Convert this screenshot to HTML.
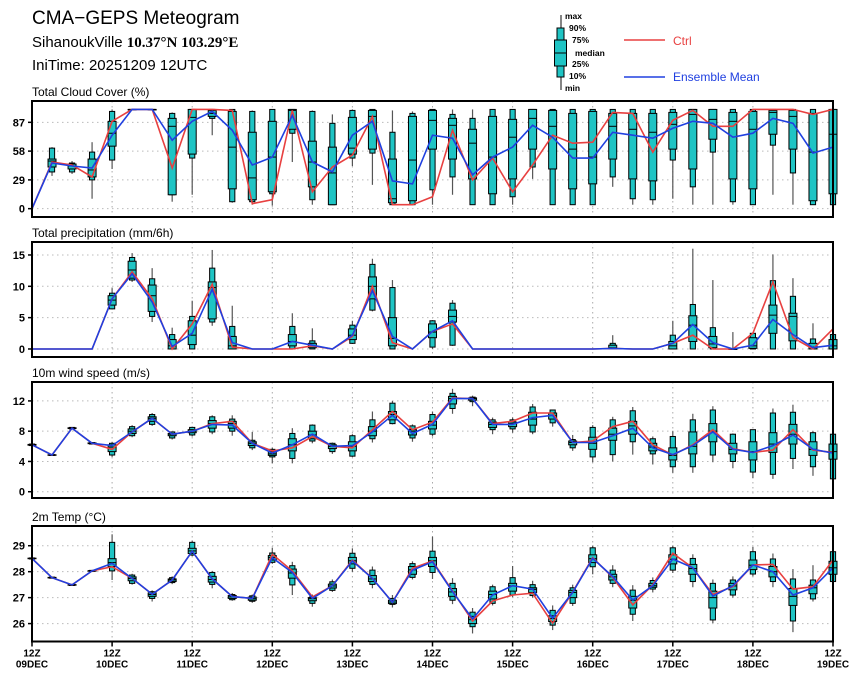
<!DOCTYPE html>
<html><head><meta charset="utf-8"><title>CMA-GEPS Meteogram</title>
<style>
html,body{margin:0;padding:0;background:#fff;}
svg{display:block;font-family:"Liberation Sans",sans-serif;}
</style></head>
<body>
<svg id="chart" width="860" height="680" viewBox="0 0 860 680" xmlns="http://www.w3.org/2000/svg">
<g>
<text x="32" y="24" font-size="19" fill="#000">CMA−GEPS Meteogram</text>
<text x="32" y="47" font-size="15" fill="#000">SihanoukVille <tspan font-family="Liberation Serif" font-weight="bold">10.37°N 103.29°E</tspan></text>
<text x="32" y="70" font-size="15" fill="#000">IniTime: 20251209 12UTC</text>
</g>
<g>
<line x1="561" y1="15" x2="561" y2="90" stroke="#333" stroke-width="1.2"/>
<rect x="557" y="28" width="7" height="49" fill="#1fc4c4" stroke="#000"/>
<rect x="554.5" y="40" width="12" height="26" fill="#1fc4c4" stroke="#000"/>
<line x1="554.5" y1="53" x2="566.5" y2="53" stroke="#000"/>
<g font-size="8.5" font-weight="bold" fill="#000">
<text x="565" y="19">max</text>
<text x="569" y="31">90%</text>
<text x="572" y="43">75%</text>
<text x="575" y="56">median</text>
<text x="572" y="67">25%</text>
<text x="569" y="79">10%</text>
<text x="565" y="91">min</text>
</g>
<line x1="624" y1="40" x2="665" y2="40" stroke="#e84040" stroke-width="1.5"/>
<text x="673" y="45" font-size="12" fill="#e84040">Ctrl</text>
<line x1="624" y1="77" x2="665" y2="77" stroke="#2040e0" stroke-width="1.5"/>
<text x="673" y="81" font-size="12" fill="#2040e0">Ensemble Mean</text>
</g>
</svg>
<script>
const N = null;
const dayLabels = ["09DEC","10DEC","11DEC","12DEC","13DEC","14DEC","15DEC","16DEC","17DEC","18DEC","19DEC"];
// Cloud cover (%)
const cloudCtrl = [0,47,44,32,88,100,100,41,100,100,99,5,9,99,17,42,54,93,4,4,12,79,29,51,17,44,74,66,67,97,96,57,89,99,83,83,100,100,100,95,100];
const cloudMean = [0,46,43,41,74,100,100,69,88,98,79,44,52,94,47,37,74,88,28,25,74,71,34,52,62,84,72,51,51,77,74,71,81,88,86,72,76,91,86,56,62];
const cloudMax = [N,62,48,67,100,100,100,97,100,100,100,99,100,100,99,95,100,100,99,98,100,100,100,100,100,100,100,100,100,100,100,100,100,100,100,100,100,100,100,100,100];
const cloudP90 = [N,61,46,57,98,100,100,96,100,100,100,98,100,100,98,86,99,100,77,96,100,95,91,100,100,100,100,100,100,100,100,100,100,100,100,100,100,100,100,100,100];
const cloudP75 = [N,50,45,50,88,100,100,91,100,99,98,77,88,100,68,62,92,99,50,93,99,91,80,93,90,100,99,96,98,96,96,96,97,100,100,97,98,99,99,96,100];
const cloudMed = [N,48,43,39,76,100,100,83,92,96,62,31,52,99,47,36,61,93,10,49,89,84,66,52,72,91,83,60,52,83,80,77,85,95,90,88,80,97,93,57,75];
const cloudP25 = [N,42,40,32,63,100,100,14,55,93,20,9,17,80,22,4,55,60,6,8,60,50,30,15,30,60,40,20,25,50,30,28,60,40,70,30,20,75,60,8,15];
const cloudP10 = [N,37,37,29,49,100,100,14,51,91,7,7,15,76,9,4,51,56,4,4,19,32,4,4,12,42,4,4,4,32,10,9,49,22,57,7,4,64,36,4,4];
const cloudMin = [N,33,35,10,40,100,100,7,14,74,6,4,3,47,4,4,43,24,4,4,4,14,4,4,4,30,4,4,4,22,4,4,10,4,4,4,4,14,4,4,4];
const cloudTicks = [0,29,58,87];
// Precipitation (mm/6h)
const precCtrl = [0,0,0,0,8,12.3,8,0,4,10.3,0.3,0,0,0,0.5,0,2,10,1,0,2.8,4,0,0,0,0,0,0,0,0.1,0,0,0.9,2.2,0,0,2.5,10.7,1.8,0,3.2];
const precMean = [0,0,0,0,8,12,7.5,0.4,2.5,9.5,1,0,0,1.2,0.6,0,2.2,9.3,2,0,2.8,4.5,0,0,0,0,0,0,0,0.1,0,0,0.9,3.9,1,0,0.6,4.7,2.3,0.2,0.6];
const precMax = [N,N,N,N,9.7,15.3,12.9,3.4,7.7,15.8,6.9,N,N,5.7,3.3,N,4.5,14.4,11,N,4.6,7.8,N,N,N,N,N,N,N,2.2,N,N,4.5,16,11,2.7,2.5,15.1,11.3,4.1,2.5];
const precP90 = [N,N,N,N,8.9,14.6,11.2,2.3,5.2,12.9,3.6,N,N,3.6,1.3,N,3.8,13.5,9.8,N,4.5,7.3,N,N,N,N,N,N,N,0.9,N,N,2.2,7.1,3.4,0,2.5,10.9,8.4,1.6,2.3];
const precP75 = [N,N,N,N,8.5,14,10.2,1.5,4.5,10.7,2.0,N,N,2.3,0.9,N,3.2,11.5,5,N,4.0,6.2,N,N,N,N,N,N,N,0.6,N,N,1.2,5.3,2.0,0,1.8,7.0,5.7,0.9,1.5];
const precMed = [N,N,N,N,7.8,12.6,8.5,0.5,2.2,9.8,0.5,N,N,1.2,0.5,N,2.2,10.0,1.7,N,2.7,5.2,N,N,N,N,N,N,N,0.2,N,N,0.5,3.8,0.8,0,0.5,5.4,5.2,0.3,0.5];
const precP25 = [N,N,N,N,7,11.3,6,0,0.7,4.8,0,N,N,0.5,0.2,N,1.5,8,0.5,N,1.8,4.3,N,N,N,N,N,N,N,0,N,N,0,1.2,0.2,0,0.1,2.5,1.3,0,0];
const precP10 = [N,N,N,N,6.4,11,5.2,0,0,4.3,0,N,N,0,0,N,0.9,6.2,0,N,0.3,0.6,N,N,N,N,N,N,N,0,N,N,0,0,0,0,0,0,0,0,0];
const precMin = [N,N,N,N,6.3,10.7,4.3,0,0,3.7,0,N,N,0,0,N,0.8,6,0,N,0,0.5,N,N,N,N,N,N,N,0,N,N,0,0,0,0,0,0,0,0,0];
const precTicks = [0,5,10,15];
// 10m wind speed (m/s)
const windCtrl = [6.2,4.85,8.4,6.4,5.6,7.9,9.7,7.6,8.0,9.0,9.3,6.4,5.4,5.8,7.3,6.0,5.8,8.2,10.6,8.2,9.2,12.4,12.3,9.0,9.3,10.4,10.4,6.5,6.7,8.6,9.3,6.2,4.85,6.2,8.2,5.7,5.2,5.5,8.2,5.5,5.2];
const windMean = [6.2,4.85,8.4,6.4,6.1,7.9,9.7,7.6,8.0,8.9,8.8,6.4,5.1,6.2,7.6,6.0,6.1,7.9,10.1,7.7,8.9,12.3,12.3,8.9,8.9,9.8,10.1,6.5,6.5,7.4,8.4,5.8,4.9,6.1,7.9,5.6,5.2,6.1,7.5,5.6,5.1];
const windMax = [6.3,4.95,8.5,6.5,6.6,8.8,10.4,7.9,8.6,10.1,10.1,7.9,5.8,8.4,8.9,6.5,7.6,10.6,12,8.9,10.6,13.6,12.7,9.8,9.8,11.6,10.8,7.5,8.8,9.9,11.2,7.3,8.0,10.3,11.3,7.7,8.2,11.0,11.5,8.0,7.8];
const windP90 = [6.3,4.9,8.5,6.5,6.4,8.6,10.2,7.9,8.5,9.9,9.6,6.8,5.6,7.7,8.8,6.4,7.4,9.5,11.7,8.7,10.2,13.0,12.5,9.5,9.5,11.2,10.8,6.9,8.5,9.5,10.7,7.0,7.3,9.5,10.8,7.6,8.2,10.4,10.5,7.8,7.6];
const windP75 = [6.25,4.88,8.45,6.45,6.2,8.3,9.9,7.7,8.2,9.4,9.3,6.6,5.3,7.0,8.0,6.2,6.6,8.6,10.6,8.2,9.3,12.6,12.4,9.2,9.2,10.5,10.4,6.7,7.2,8.4,9.3,6.4,5.8,7.9,9.0,6.4,6.6,7.8,8.9,6.6,6.3];
const windMed = [6.2,4.85,8.4,6.4,5.9,8.0,9.7,7.6,8.0,9.0,9.0,6.4,5.0,6.2,7.5,6.0,6.0,8.0,10.2,8.0,8.8,12.3,12.3,8.9,9.0,9.6,10.1,6.5,6.4,7.6,8.7,5.9,4.8,6.0,8.0,5.6,5.3,6.3,7.6,5.6,5.3];
const windP25 = [6.15,4.82,8.35,6.35,5.3,7.7,9.3,7.4,7.8,8.4,8.4,6.1,4.8,5.4,7.0,5.7,5.4,7.4,9.5,7.5,8.3,11.6,12.1,8.5,8.6,8.8,9.6,6.2,5.6,6.8,7.6,5.4,4.2,5.0,6.6,5.0,4.2,5.2,6.3,4.8,4.3];
const windP10 = [6.1,4.8,8.3,6.3,4.85,7.4,8.9,7.1,7.5,7.9,8.0,5.8,4.6,4.4,6.7,5.3,4.7,7.0,9.0,7.1,7.6,11.0,11.9,8.2,8.3,7.9,9.1,5.8,4.6,4.9,6.6,5.0,3.3,3.3,4.85,4.0,2.6,2.3,4.4,3.3,1.7];
const windMin = [6.1,4.75,8.25,6.25,4.6,7.2,8.7,6.9,7.3,7.6,7.4,5.5,3.75,3.75,6.4,5.0,4.6,6.5,8.9,6.6,7.3,10.3,11.3,7.6,7.8,7.6,8.6,5.4,3.9,4.0,4.9,3.6,2.5,2.5,3.9,3.1,1.8,1.7,3.0,2.1,1.7];
const windTicks = [0,4,8,12];
// 2m temperature (C)
const tempCtrl = [28.51,27.77,27.49,28.03,28.19,27.74,27.13,27.68,28.79,27.72,27.04,26.97,28.67,28.03,27.03,27.46,28.45,27.74,26.82,28.13,28.41,27.26,26.1,26.87,27.10,27.17,26.01,27.22,28.54,27.78,26.72,27.5,28.71,28.15,27.13,27.42,28.26,28.28,27.33,27.42,28.45];
const tempMean = [28.51,27.77,27.49,28.03,28.32,27.74,27.13,27.68,28.79,27.72,27.04,26.97,28.54,27.97,26.97,27.46,28.41,27.74,26.82,28.06,28.38,27.23,26.18,27.10,27.46,27.33,26.21,27.2,28.51,27.81,26.91,27.46,28.49,28.15,27.06,27.46,28.26,28.0,27.10,27.38,28.15];
const tempMax = [28.55,27.81,27.53,28.07,29.44,27.92,27.28,27.82,29.2,28.03,27.18,27.12,28.92,28.38,27.12,27.7,28.9,28.2,27.1,28.4,29.35,27.75,26.6,27.5,28.22,27.65,26.7,27.5,29.0,28.25,27.48,27.78,29.0,28.67,27.7,27.82,28.95,28.7,28.1,28.25,28.8];
const tempP90 = [28.53,27.79,27.51,28.05,29.13,27.87,27.23,27.77,29.13,27.97,27.12,27.07,28.72,28.23,27.03,27.61,28.71,28.06,26.97,28.31,28.79,27.55,26.44,27.42,27.77,27.5,26.51,27.38,28.92,28.06,27.29,27.66,28.92,28.51,27.55,27.68,28.77,28.49,27.72,27.68,28.77];
const tempP75 = [28.52,27.78,27.5,28.04,28.5,27.8,27.18,27.72,28.9,27.82,27.08,27.02,28.62,28.1,27.0,27.52,28.55,27.85,26.9,28.2,28.55,27.35,26.28,27.25,27.55,27.38,26.3,27.28,28.65,27.9,27.05,27.55,28.65,28.28,27.25,27.55,28.45,28.2,27.35,27.48,28.4];
const tempMed = [28.51,27.77,27.49,28.03,28.35,27.74,27.12,27.68,28.8,27.7,27.03,26.96,28.55,27.95,26.96,27.45,28.42,27.72,26.83,28.07,28.42,27.22,26.15,27.12,27.45,27.32,26.2,27.2,28.5,27.8,26.9,27.46,28.48,28.12,27.0,27.45,28.25,28.0,27.05,27.38,28.15];
const tempP25 = [28.5,27.76,27.48,28.02,28.2,27.65,27.05,27.62,28.7,27.6,26.97,26.9,28.45,27.75,26.88,27.37,28.3,27.62,26.77,27.9,28.2,27.05,26.0,26.95,27.25,27.2,26.08,27.0,28.35,27.68,26.6,27.4,28.3,27.9,26.6,27.3,28.08,27.8,26.7,27.15,27.9];
const tempP10 = [28.49,27.75,27.47,28.01,28.03,27.55,26.97,27.58,28.64,27.51,26.92,26.86,28.36,27.49,26.78,27.28,28.13,27.51,26.74,27.78,27.97,26.9,25.88,26.78,27.1,27.08,25.94,26.78,28.19,27.55,26.36,27.33,28.06,27.62,26.14,27.1,27.91,27.62,26.1,26.95,27.62];
const tempMin = [28.47,27.73,27.45,27.99,27.68,27.5,26.85,27.52,28.6,27.36,26.88,26.8,28.3,27.1,26.65,27.22,27.99,27.36,26.62,27.7,27.72,26.75,25.62,26.7,27.02,27.0,25.75,26.68,27.9,27.4,26.1,27.2,27.95,27.4,26.02,27.0,27.82,27.4,25.67,26.85,27.5];
const tempTicks = [26,27,28,29];

const NS = "http://www.w3.org/2000/svg";
const svg = document.getElementById("chart");
const X0 = 32, X1 = 833, NSTEP = 40;
function xOf(i){ return X0 + (X1 - X0) * i / NSTEP; }
function mk(tag, attrs, parent){
  const e = document.createElementNS(NS, tag);
  for (const k in attrs) e.setAttribute(k, attrs[k]);
  (parent || svg).appendChild(e);
  return e;
}
const panels = [
  {key:"cloud", title:"Total Cloud Cover (%)", top:101, bot:217, ymin:-8.4, ymax:108.5, ticks:cloudTicks, ctrl:cloudCtrl, mean:cloudMean, mx:cloudMax, p90:cloudP90, p75:cloudP75, med:cloudMed, p25:cloudP25, p10:cloudP10, mn:cloudMin},
  {key:"precip", title:"Total precipitation (mm/6h)", top:242, bot:357, ymin:-1.28, ymax:17.07, ticks:precTicks, ctrl:precCtrl, mean:precMean, mx:precMax, p90:precP90, p75:precP75, med:precMed, p25:precP25, p10:precP10, mn:precMin},
  {key:"wind", title:"10m wind speed (m/s)", top:382, bot:498, ymin:-0.83, ymax:14.5, ticks:windTicks, ctrl:windCtrl, mean:windMean, mx:windMax, p90:windP90, p75:windP75, med:windMed, p25:windP25, p10:windP10, mn:windMin},
  {key:"temp", title:"2m Temp (°C)", top:526, bot:641.5, ymin:25.31, ymax:29.76, ticks:tempTicks, ctrl:tempCtrl, mean:tempMean, mx:tempMax, p90:tempP90, p75:tempP75, med:tempMed, p25:tempP25, p10:tempP10, mn:tempMin}
];
panels.forEach(function(p, pi){
  const yOf = v => p.bot - (v - p.ymin) / (p.ymax - p.ymin) * (p.bot - p.top);
  const g = mk("g", {});
  
  
  const t = mk("text", {x:32, y:p.top - 5, "font-size":12, fill:"#000"}, g);
  t.textContent = p.title;
  
  
  // grid
  for (let d = 1; d < 10; d++){
    const gl = mk("line", {x1:xOf(d*4), x2:xOf(d*4), y1:p.top, y2:p.bot, stroke:"#aaa", "stroke-dasharray":"1.5,3.5", "stroke-width":1}, g);
    
    
  }
  p.ticks.forEach(function(v){
    const y = yOf(v);
    const hl = mk("line", {x1:X0, x2:X1, y1:y, y2:y, stroke:"#bbb", "stroke-dasharray":"1.5,3.5", "stroke-width":1}, g);
    
    
    const tk = mk("line", {x1:X0-4, x2:X0, y1:y, y2:y, stroke:"#000", "stroke-width":1.5}, g);
    
    
    const tl = mk("text", {x:X0-7, y:y+4, "font-size":11, "font-weight":"bold", "text-anchor":"end", fill:"#000"}, g);
    tl.textContent = String(v);
    
    
  });
  // boxes
  for (let i = 0; i <= NSTEP; i++){
    if (p.mx[i] === null) continue;
    const x = xOf(i);
    const bg = mk("g", {}, g);
    
    
    mk("line", {x1:x, x2:x, y1:yOf(p.mx[i]), y2:yOf(p.mn[i]), stroke:"#555", "stroke-width":1.2}, bg);
    const y90 = yOf(p.p90[i]), y10 = yOf(p.p10[i]);
    mk("rect", {x:x-2.6, y:y90, width:5.2, height:Math.max(0.5, y10-y90), fill:"#1fc4c4", stroke:"#000", "stroke-width":1}, bg);
    const y75 = yOf(p.p75[i]), y25 = yOf(p.p25[i]);
    mk("rect", {x:x-4, y:y75, width:8, height:Math.max(0.5, y25-y75), fill:"#1fc4c4", stroke:"#000", "stroke-width":1}, bg);
    const ym = yOf(p.med[i]);
    mk("line", {x1:x-4, x2:x+4, y1:ym, y2:ym, stroke:"#000", "stroke-width":1}, bg);
  }
  // lines
  const ptsC = p.ctrl.map((v,i) => xOf(i).toFixed(1) + "," + yOf(v).toFixed(1)).join(" ");
  const lc = mk("polyline", {points:ptsC, fill:"none", stroke:"#e84040", "stroke-width":1.6}, g);
  
  
  const ptsM = p.mean.map((v,i) => xOf(i).toFixed(1) + "," + yOf(v).toFixed(1)).join(" ");
  const lm = mk("polyline", {points:ptsM, fill:"none", stroke:"#2040e0", "stroke-width":1.6}, g);
  
  
  const fr = mk("rect", {x:X0, y:p.top, width:X1-X0, height:p.bot-p.top, fill:"none", stroke:"#000", "stroke-width":2}, g);
  
  
  if (pi === panels.length - 1){
    dayLabels.forEach(function(lab, d){
      const x = xOf(d*4);
      const tk = mk("line", {x1:x, x2:x, y1:p.bot, y2:p.bot+5, stroke:"#000", "stroke-width":1.5}, g);
      
      
      const t1 = mk("text", {x:x, y:p.bot+15, "font-size":10, "font-weight":"bold", "text-anchor":"middle", fill:"#000"}, g);
      t1.textContent = "12Z";
      
      
      const t2 = mk("text", {x:x, y:p.bot+26, "font-size":10, "font-weight":"bold", "text-anchor":"middle", fill:"#000"}, g);
      t2.textContent = lab;
      
      
    });
  }
});
</script>
</body></html>
